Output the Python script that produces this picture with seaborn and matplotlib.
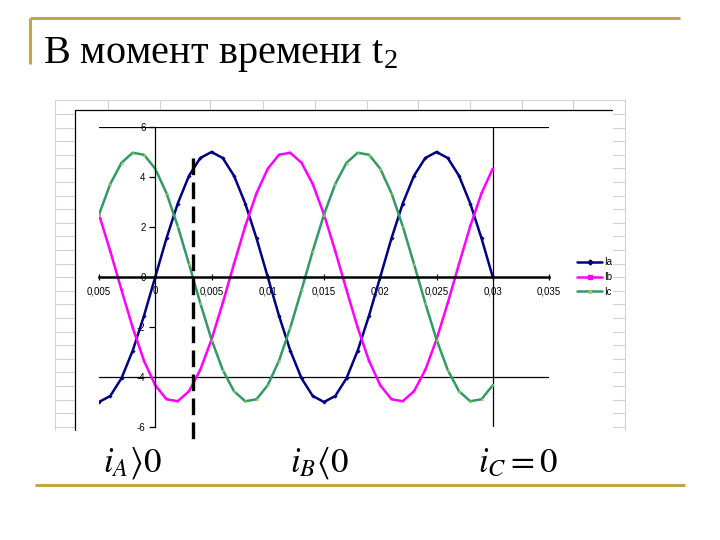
import numpy as np
import pandas as pd
import matplotlib
matplotlib.use("Agg")
import matplotlib.pyplot as plt
from matplotlib.lines import Line2D
import seaborn as sns

# time axis, s
t = [-0.005, -0.004, -0.003, -0.002, -0.001, 0.000, 0.001, 0.002, 0.003,
     0.004, 0.005, 0.006, 0.007, 0.008, 0.009, 0.010, 0.011, 0.012,
     0.013, 0.014, 0.015, 0.016, 0.017, 0.018, 0.019, 0.020, 0.021,
     0.022, 0.023, 0.024, 0.025, 0.026, 0.027, 0.028, 0.029, 0.030]

# phase currents
ia = [-5.00, -4.76, -4.05, -2.94, -1.55, 0.00, 1.55, 2.94, 4.05, 4.76,
      5.00, 4.76, 4.05, 2.94, 1.55, 0.00, -1.55, -2.94, -4.05, -4.76,
      -5.00, -4.76, -4.05, -2.94, -1.55, 0.00, 1.55, 2.94, 4.05, 4.76,
      5.00, 4.76, 4.05, 2.94, 1.55, 0.00]
ib = [2.50, 1.04, -0.52, -2.03, -3.35, -4.33, -4.89, -4.97, -4.57, -3.72,
      -2.50, -1.04, 0.52, 2.03, 3.35, 4.33, 4.89, 4.97, 4.57, 3.72,
      2.50, 1.04, -0.52, -2.03, -3.35, -4.33, -4.89, -4.97, -4.57, -3.72,
      -2.50, -1.04, 0.52, 2.03, 3.35, 4.33]
ic = [2.50, 3.72, 4.57, 4.97, 4.89, 4.33, 3.35, 2.03, 0.52, -1.04,
      -2.50, -3.72, -4.57, -4.97, -4.89, -4.33, -3.35, -2.03, -0.52, 1.04,
      2.50, 3.72, 4.57, 4.97, 4.89, 4.33, 3.35, 2.03, 0.52, -1.04,
      -2.50, -3.72, -4.57, -4.97, -4.89, -4.33]

series_names = ["Ia", "Ib", "Ic"]
series_colors = {"Ia": "#000080", "Ib": "#FF00FF", "Ic": "#339966"}
series_markers = {"Ia": "D", "Ib": "s", "Ic": "^"}
marker_faces = {"Ia": "#000080", "Ib": "#FF00FF", "Ic": "#99CC66"}

t2 = 0.00333
x_ticks = [-0.005, 0, 0.005, 0.01, 0.015, 0.02, 0.025, 0.03, 0.035]
x_labels = ["0,005", "0", "0,005", "0,01", "0,015", "0,02", "0,025", "0,03", "0,035"]
y_ticks = [-6, -4, -2, 0, 2, 4, 6]
y_labels = ["-6", "-4", "-2", "0", "2", "4", "6"]

df = pd.DataFrame({
    "t": t * 3,
    "I": ia + ib + ic,
    "series": ["Ia"] * len(t) + ["Ib"] * len(t) + ["Ic"] * len(t),
})

sns.set_theme(style="white")
plt.rcParams["font.family"] = ["Liberation Sans", "DejaVu Sans"]
plt.rcParams["mathtext.fontset"] = "stix"
plt.rcParams["text.color"] = "black"

fig = plt.figure(figsize=(7.2, 5.4), dpi=100)

# slide background in pixel coordinates
bg = fig.add_axes([0, 0, 1, 1], zorder=0)
bg.set_xlim(0, 720)
bg.set_ylim(540, 0)
bg.axis("off")
gold = "#C4A548"
bg.plot([30, 680], [18, 18], color=gold, lw=2.2, solid_capstyle="butt")
bg.plot([30, 30], [18, 64], color=gold, lw=2.2, solid_capstyle="butt")
bg.plot([35, 685], [485, 485], color=gold, lw=2.2, solid_capstyle="butt")

# spreadsheet cells behind the embedded chart
grey = "#D2D2D2"
for y in np.arange(114, 430, 13.6):
    bg.plot([55, 75], [y, y], color=grey, lw=0.8)
    bg.plot([611, 625], [y, y], color=grey, lw=0.8)
bg.plot([55, 625], [100, 100], color=grey, lw=0.8)
bg.plot([55, 55], [100, 430], color=grey, lw=0.8)
bg.plot([625, 625], [100, 430], color=grey, lw=0.8)
for x in [108, 160, 210, 263, 315, 367, 418, 470, 522, 573]:
    bg.plot([x, x], [100, 110], color=grey, lw=0.8)
bg.fill_between([75, 612], 110, 430, color="white", zorder=2)
bg.plot([75, 75], [430, 110], color="black", lw=0.9, zorder=3)
bg.plot([75, 612], [110, 110], color="black", lw=0.9, zorder=3)

# chart
ax = fig.add_axes([99 / 720, 113 / 540, 450 / 720, 300 / 540], zorder=1)
ax.patch.set_alpha(0)
sns.lineplot(data=df, x="t", y="I", hue="series", style="series",
             palette=series_colors, markers=series_markers, dashes=False,
             hue_order=series_names, linewidth=1.8, markersize=1.8,
             legend=False, ax=ax)
for line, name in zip(ax.lines[:3], series_names):
    line.set_markerfacecolor(marker_faces[name])
    line.set_markeredgecolor(marker_faces[name])
    line.set_markeredgewidth(0.3)

ax.set_xlim(-0.005, 0.035)
ax.set_ylim(-6, 6)
ax.axhline(6, color="black", lw=0.9, zorder=1)
ax.axhline(-4, color="black", lw=0.9, zorder=1)
ax.plot([0.03, 0.03], [-6, 6], color="black", lw=0.9, zorder=1)

ax.spines["top"].set_visible(False)
ax.spines["right"].set_visible(False)
ax.spines["left"].set_position(("data", 0))
ax.spines["bottom"].set_position(("data", 0))
ax.spines["left"].set_linewidth(0.9)
ax.spines["bottom"].set_linewidth(1.8)
ax.spines["left"].set_color("black")
ax.spines["bottom"].set_color("black")
ax.set_xticks(x_ticks)
ax.set_xticklabels(x_labels)
ax.set_yticks(y_ticks)
ax.set_yticklabels(y_labels)
ax.tick_params(axis="x", direction="inout", length=5, width=0.9,
               labelsize=7, pad=4, colors="black", bottom=True)
ax.tick_params(axis="y", direction="out", length=4, width=0.9,
               labelsize=7, pad=3, colors="black", left=True)
ax.set_xlabel("")
ax.set_ylabel("")

# moment t2
ax.plot([t2, t2], [4.76, -6.6], color="black", lw=2.4,
        ls=(0, (5, 2.2)), clip_on=False, zorder=5)

handles = [Line2D([], [], color=series_colors[n], lw=1.8,
                  marker=series_markers[n], markersize=2.5,
                  markerfacecolor=marker_faces[n], markeredgecolor=marker_faces[n])
           for n in series_names]
ax.legend(handles, series_names, loc="center left",
          bbox_to_anchor=(572 / 720, 1 - 277 / 540), bbox_transform=fig.transFigure,
          frameon=False, fontsize=7, handlelength=2.6, handletextpad=0.2,
          labelspacing=0.5, borderpad=0)

# slide texts
fig.text(43 / 720, 1 - 63 / 540, r"В момент времени t$_{\mathregular{2}}$",
         fontsize=29, family="Liberation Serif", va="baseline", ha="left",
         color="black")
fig.text(103 / 720, 1 - 472 / 540, r"$i_A\rangle0$", fontsize=25,
         va="baseline", color="black")
fig.text(290 / 720, 1 - 472 / 540, r"$i_B\langle0$", fontsize=25,
         va="baseline", color="black")
fig.text(478 / 720, 1 - 472 / 540, r"$i_C=0$", fontsize=25,
         va="baseline", color="black")

fig.savefig("out.png", dpi=100)
